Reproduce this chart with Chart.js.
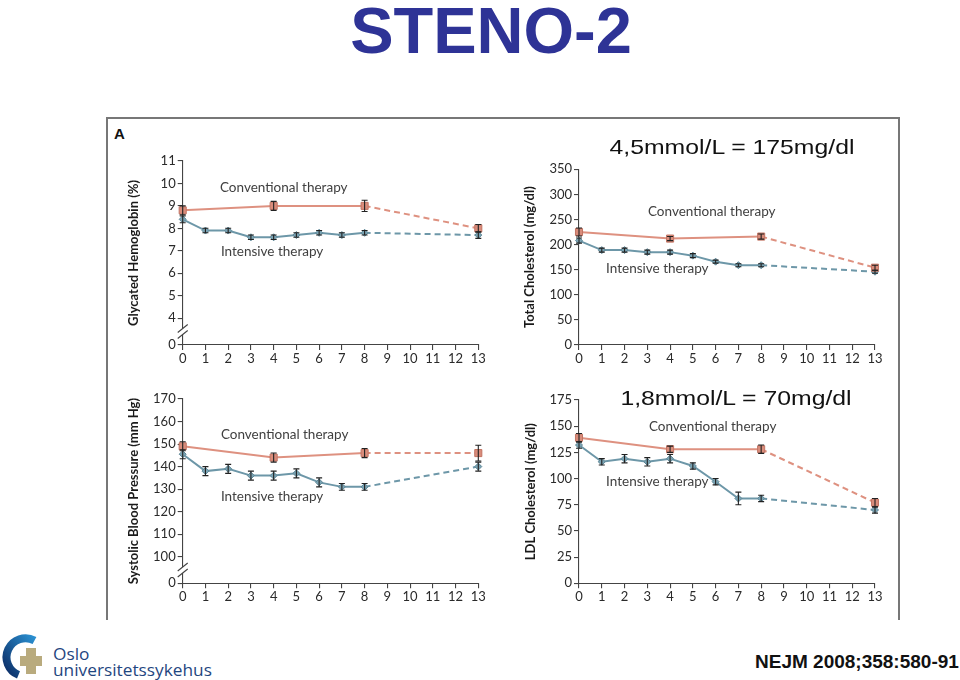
<!DOCTYPE html>
<html><head><meta charset="utf-8">
<script src="https://cdn.jsdelivr.net/npm/chart.js@4.4.1/dist/chart.umd.min.js"></script>
<style>
html,body{margin:0;padding:0;background:#fff;}
body{width:960px;height:680px;position:relative;overflow:hidden;font-family:"Liberation Sans",Arial,sans-serif;}
.abs{position:absolute;white-space:nowrap;}
#frame{position:absolute;left:106px;top:117px;width:794px;height:503px;border:2px solid #777;border-bottom:none;box-sizing:border-box;}
canvas{position:absolute;}
#title{left:0;width:982px;top:-2px;text-align:center;font-weight:bold;font-size:65px;line-height:65px;color:#2e3396;}
#letterA{left:114px;top:126px;font-weight:bold;font-size:15px;line-height:15px;color:#111;}
.conv{font-size:21px;line-height:21px;color:#111;z-index:5;transform:translateX(-50%) scaleX(1.18);}
#conv1{left:732px;top:136px;}
#conv2{left:736px;top:387px;}
#nejm{left:755px;top:652px;font-weight:bold;font-size:19px;line-height:19px;color:#111;}
.oslo{font-family:"Open Sans",sans-serif;font-size:16px;line-height:16px;color:#1f467f;transform-origin:left center;transform:scaleX(1.08);}
#oslo1{left:53px;top:646px;}
#oslo2{left:53px;top:662px;}
#logo{left:0;top:630px;}
</style>
</head><body>
<div id="frame"></div>
<div id="title" class="abs">STENO-2</div>
<div id="letterA" class="abs">A</div>
<canvas id="c1" width="390" height="240" style="left:110px;top:140px;"></canvas>
<canvas id="c2" width="395" height="240" style="left:505px;top:140px;"></canvas>
<canvas id="c3" width="390" height="240" style="left:110px;top:380px;"></canvas>
<canvas id="c4" width="395" height="240" style="left:505px;top:380px;"></canvas>
<div id="conv1" class="abs conv">4,5mmol/L = 175mg/dl</div>
<div id="conv2" class="abs conv">1,8mmol/L = 70mg/dl</div>
<svg id="logo" class="abs" width="50" height="50" viewBox="0 0 50 50">
  <defs><linearGradient id="lg" x1="0" y1="1" x2="1" y2="0">
    <stop offset="0" stop-color="#0c2d66"/><stop offset="1" stop-color="#2a8fd0"/></linearGradient></defs>
  <path d="M 34.5 10.5 A 19 19 0 1 0 18.5 44.9" fill="none" stroke="url(#lg)" stroke-width="8"/>
  <path d="M26 18 H36 V26 H42 V36 H36 V44 H26 V36 H20 V26 H26 Z" fill="#b9ab7e"/>
</svg>
<div id="oslo1" class="abs oslo">Oslo</div>
<div id="oslo2" class="abs oslo">universitetssykehus</div>
<div id="nejm" class="abs">NEJM 2008;358:580-91</div>
<script>
// ---- data ----
const years = [0,1,2,3,4,5,6,7,8,9,10,11,12,13];
const convYears = [0,4,8,13];
const intYears = [0,1,2,3,4,5,6,7,8,13];

const hbConv = [8.8, 9.0, 9.0, 8.0];
const hbConvErr = [0.2, 0.2, 0.25, 0.17];
const hbInt = [8.4, 7.9, 7.9, 7.6, 7.6, 7.7, 7.8, 7.7, 7.8, 7.7];
const hbIntErr = [0.15, 0.1, 0.1, 0.1, 0.1, 0.1, 0.1, 0.1, 0.1, 0.15];
const hbTicks = [0,4,5,6,7,8,9,10,11];

const tcConv = [225, 212, 216, 154];
const tcConvErr = [8, 4, 5, 5];
const tcInt = [208, 189, 189, 185, 185, 178, 166, 159, 159, 146];
const tcIntErr = [5, 4, 4, 4, 4, 4, 3, 3, 3, 3];
const tcTicks = [0,50,100,150,200,250,300,350];

const sbpConv = [149, 144, 146, 146];
const sbpConvErr = [2, 2, 2, 3.5];
const sbpInt = [145.5, 138, 139, 136, 136, 137, 133, 131, 131, 140];
const sbpIntErr = [2, 2, 2, 2, 2, 2, 2, 1.5, 1.5, 2];
const sbpTicks = [0,100,110,120,130,140,150,160,170];

const ldlConv = [139, 128, 128, 77];
const ldlConvErr = [4, 3, 4, 4];
const ldlInt = [132, 116, 119, 116, 119, 112, 97, 81, 81, 70];
const ldlIntErr = [3, 3, 4, 4, 4, 3, 3, 6, 3, 3];
const ldlTicks = [0,25,50,75,100,125,150,175];

const convLabel = 'Conventional therapy';
const intLabel = 'Intensive therapy';

// ---- drawing helpers ----
const deco = {
  id: 'deco',
  afterDatasetsDraw(chart) {
    const {ctx, scales:{x, y}} = chart;
    ctx.save();
    ctx.strokeStyle = '#222'; ctx.lineWidth = 1.1;
    chart.data.datasets.forEach(ds => {
      if (!ds.errors) return;
      ds.data.forEach((p, j) => {
        const px = x.getPixelForValue(p.x);
        const t = y.getPixelForValue(p.y + ds.errors[j]);
        const b = y.getPixelForValue(p.y - ds.errors[j]);
        ctx.beginPath();
        ctx.moveTo(px, t); ctx.lineTo(px, b);
        ctx.moveTo(px - 3, t); ctx.lineTo(px + 3, t);
        ctx.moveTo(px - 3, b); ctx.lineTo(px + 3, b);
        ctx.stroke();
      });
    });
    ctx.restore();
  },
  afterDraw(chart, args, opts) {
    const {ctx, scales:{x, y}} = chart;
    ctx.save();
    ctx.font = '13.5px Lato'; ctx.fillStyle = '#404040';
    ctx.textBaseline = 'middle'; ctx.textAlign = 'left';
    (opts.labels || []).forEach(l => ctx.fillText(l.text, x.getPixelForValue(l.x), y.getPixelForValue(l.y)));
    if (opts.breakAt != null) {
      const bx = chart.chartArea.left, by = y.getPixelForValue(opts.breakAt);
      ctx.fillStyle = '#fff'; ctx.fillRect(bx - 2, by - 3, 4, 6);
      ctx.strokeStyle = '#444'; ctx.lineWidth = 1.1;
      ctx.beginPath();
      ctx.moveTo(bx - 5, by + 1); ctx.lineTo(bx + 5, by - 7);
      ctx.moveTo(bx - 5, by + 7); ctx.lineTo(bx + 5, by - 1);
      ctx.stroke();
    }
    ctx.restore();
  }
};

const dashAfter8 = c => c.p0.parsed.x >= 8 ? [6, 4] : undefined;
function series(xs, ys, errs, isConv) {
  return {
    data: xs.map((x, i) => ({x, y: ys[i]})),
    errors: errs,
    borderColor: isConv ? '#de9180' : '#6d97a8',
    borderWidth: 2,
    pointStyle: isConv ? 'rect' : 'rectRot',
    pointRadius: isConv ? 5 : 3.5,
    pointBackgroundColor: isConv ? '#d98c7b' : '#7aa3b3',
    pointBorderColor: isConv ? '#c27463' : '#5e8797',
    pointBorderWidth: 1,
    tension: 0, clip: false,
    segment: {borderDash: dashAfter8}
  };
}

function makePanel(id, g) {
  const axisMin = g.yMin;
  new Chart(document.getElementById(id), {
    type: 'line',
    data: {datasets: [series(convYears, g.conv, g.convErr, true), series(intYears, g.int, g.intErr, false)]},
    options: {
      responsive: false, animation: false, devicePixelRatio: 1,
      layout: {padding: {left: 0, top: g.padTop, right: g.padRight, bottom: 0}},
      plugins: {
        legend: {display: false}, tooltip: {enabled: false},
        deco: {labels: g.labels, breakAt: g.breakAt}
      },
      scales: {
        x: {
          type: 'linear', min: 0, max: 13,
          afterBuildTicks: s => { s.ticks = years.map(v => ({value: v})); },
          afterFit: s => { s.height = g.xHeight; },
          ticks: {autoSkip: false, maxRotation: 0, padding: 1, color: '#2a2a2a', font: {family: 'Lato', size: 13},
                  callback: v => String(v)},
          grid: {display: true, drawOnChartArea: false, drawTicks: true, tickLength: 5, color: '#444', lineWidth: 1.1},
          border: {display: true, color: '#444', width: 1.1}
        },
        y: {
          type: 'linear', min: axisMin, max: g.yMax,
          afterBuildTicks: s => { s.ticks = g.ticks.map(v => ({value: v === 0 ? axisMin : v})); },
          afterFit: s => { s.width = g.yWidth; },
          ticks: {padding: 2, color: '#2a2a2a', font: {family: 'Lato', size: 13},
                  callback: v => (v === axisMin ? '0' : String(v))},
          grid: {display: true, drawOnChartArea: false, drawTicks: true, tickLength: 5, color: '#444', lineWidth: 1.1},
          border: {display: true, color: '#444', width: 1.1},
          title: {display: true, text: g.title, color: '#1a1a1a', font: {family: 'Lato', weight: 'bold', size: 13},
                  padding: {top: g.titlePad, bottom: 0}}
        }
      }
    },
    plugins: [deco]
  });
}

makePanel('c1', {conv: hbConv, convErr: hbConvErr, int: hbInt, intErr: hbIntErr, ticks: hbTicks,
  yMin: 2.8, yMax: 11, breakAt: 3.4, title: 'Glycated Hemoglobin (%)',
  padTop: 21, padRight: 21.7, yWidth: 72.7, xHeight: 35, titlePad: 16.3,
  labels: [{text: convLabel, x: 1.64, y: 9.8}, {text: intLabel, x: 1.68, y: 6.95}]});
makePanel('c2', {conv: tcConv, convErr: tcConvErr, int: tcInt, intErr: tcIntErr, ticks: tcTicks,
  yMin: 0, yMax: 350, breakAt: null, title: 'Total Cholesterol (mg/dl)',
  padTop: 29.3, padRight: 25, yWidth: 74, xHeight: 35, titlePad: 17.3,
  labels: [{text: convLabel, x: 3.03, y: 265}, {text: intLabel, x: 1.19, y: 153}]});
makePanel('c3', {conv: sbpConv, convErr: sbpConvErr, int: sbpInt, intErr: sbpIntErr, ticks: sbpTicks,
  yMin: 88.2, yMax: 170, breakAt: 94.1, title: 'Systolic Blood Pressure (mm Hg)',
  padTop: 19, padRight: 21.7, yWidth: 72.7, xHeight: 36.7, titlePad: 16.3,
  labels: [{text: convLabel, x: 1.68, y: 154}, {text: intLabel, x: 1.68, y: 126.5}]});
makePanel('c4', {conv: ldlConv, convErr: ldlConvErr, int: ldlInt, intErr: ldlIntErr, ticks: ldlTicks,
  yMin: 0, yMax: 175, breakAt: null, title: 'LDL Cholesterol (mg/dl)',
  padTop: 20, padRight: 25, yWidth: 74, xHeight: 36.7, titlePad: 18.3,
  labels: [{text: convLabel, x: 3.07, y: 150}, {text: intLabel, x: 1.19, y: 96.7}]});
</script>
</body></html>
